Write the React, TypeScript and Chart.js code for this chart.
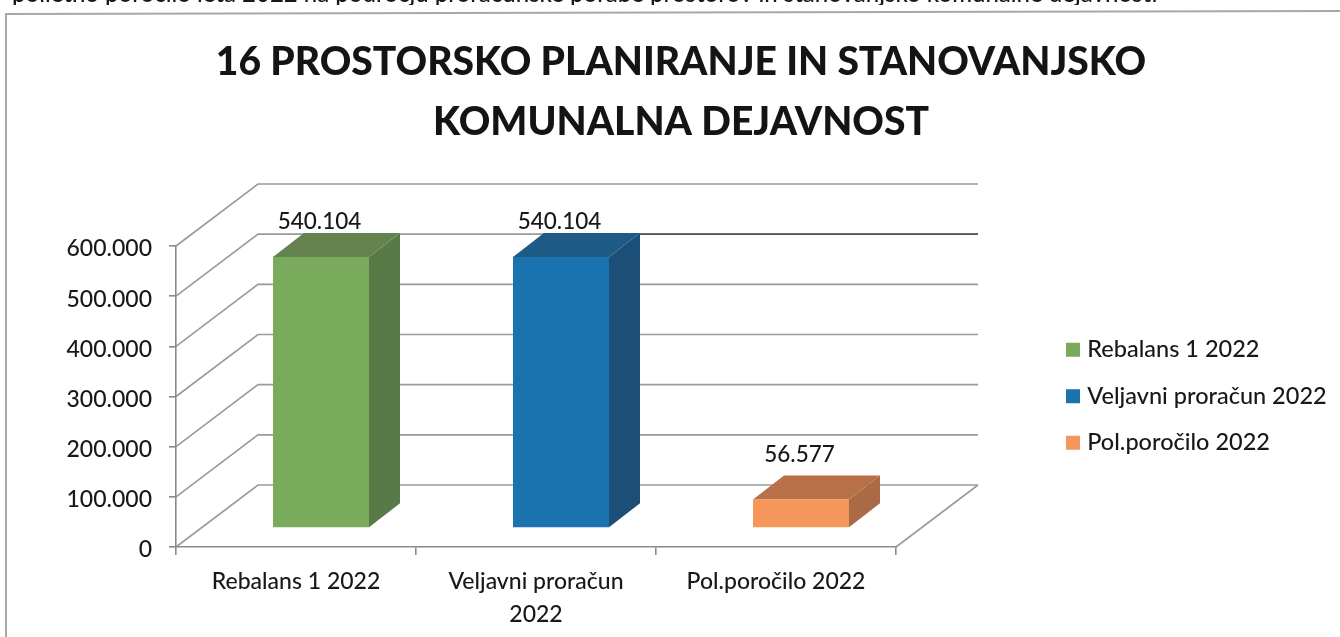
import React, { useEffect, useRef } from "react";
import { Chart, registerables } from "chart.js";

Chart.register(...registerables);

const categories = ["Rebalans 1 2022", ["Veljavni proračun", "2022"], "Pol.poročilo 2022"];
const legendNames = ["Rebalans 1 2022", "Veljavni proračun 2022", "Pol.poročilo 2022"];
const values = [540104, 540104, 56577];
const titleLines = ["16 PROSTORSKO PLANIRANJE IN STANOVANJSKO", "KOMUNALNA DEJAVNOST"];
const frontColors = ["#7aaa5c", "#1a72ae", "#f5965a"];
const topColors = ["#64834f", "#1d5a86", "#b87048"];
const sideColors = ["#587a48", "#1c4f78", "#a96a45"];
const headerText = "polletno poročilo leta 2022 na področju proračunske porabe prostorov in stanovanjsko komunalne dejavnosti";

const FONT = "Lato, sans-serif";
const TEXT = "#181818";
const WALL_DX = 82;
const WALL_DY = -62;
const BAR_DX = 25;
const BAR_DY = -19;
const DEPTH_DX = 31;
const DEPTH_DY = -24;
const GRID = "#9a9a9a";
const fmt = (v: number) => String(Math.round(v)).replace(/\B(?=(\d{3})+$)/g, ".");

const poly = (ctx: any, pts: number[][], fill: string) => {
  ctx.beginPath();
  pts.forEach(([x, y], i) => (i ? ctx.lineTo(x, y) : ctx.moveTo(x, y)));
  ctx.closePath();
  ctx.fillStyle = fill;
  ctx.fill();
};

const scene = {
  id: "scene",
  afterLayout(chart: any) {
    const l = chart.legend;
    l.left = 1047.5; l.right = 1340; l.top = 315; l.bottom = 900;
    const t = chart.titleBlock;
    t.left = 22; t.right = 1340;
    // nudge the value-axis labels down to sit level with their ticks
    const ys = chart.scales.y;
    const compute = ys.constructor.prototype._computeLabelItems;
    ys._computeLabelItems = function (area: any) {
      const items = compute.call(this, area);
      items.forEach((it: any) => { it.textOffset += 3; });
      return items;
    };
  },
  beforeDraw(chart: any) {
    const { ctx, scales: { x, y } } = chart;
    ctx.save();
    ctx.strokeStyle = "#a8a8a8";
    ctx.lineWidth = 2;
    ctx.beginPath();
    ctx.moveTo(6, 637); ctx.lineTo(6, 14); ctx.lineTo(1340, 11);
    ctx.stroke();
    ctx.beginPath();
    ctx.rect(0, 0, 1340, 5);
    ctx.clip();
    ctx.font = `500 24px ${FONT}`;
    ctx.fillStyle = TEXT;
    ctx.textBaseline = "alphabetic";
    ctx.fillText(headerText, 12, 2);
    ctx.restore();

    ctx.save();
    ctx.strokeStyle = GRID;
    ctx.lineWidth = 1.6;
    const left = x.left, right = x.right;
    y.ticks.forEach((t: any) => {
      const p = y.getPixelForValue(t.value);
      ctx.beginPath();
      ctx.moveTo(left, p);
      ctx.lineTo(left + WALL_DX, p + WALL_DY);
      ctx.lineTo(right + WALL_DX, p + WALL_DY);
      ctx.stroke();
    });
    const b = y.getPixelForValue(0);
    ctx.beginPath();
    ctx.moveTo(right, b);
    ctx.lineTo(right + WALL_DX, b + WALL_DY);
    ctx.stroke();
    ctx.restore();
  },
  beforeDatasetsDraw(chart: any) {
    const { ctx } = chart;
    const bars = chart.getDatasetMeta(0).data;
    ctx.save();
    const yp = chart.scales.y.getPixelForValue(500000) + WALL_DY;
    ctx.strokeStyle = "#555";
    ctx.lineWidth = 1.8;
    ctx.beginPath();
    ctx.moveTo(bars[1].x + BAR_DX + bars[1].width / 2 + DEPTH_DX, yp);
    ctx.lineTo(chart.scales.x.right + WALL_DX, yp);
    ctx.stroke();
    bars.forEach((bar: any, i: number) => {
      const l = bar.x + BAR_DX - bar.width / 2;
      const r = bar.x + BAR_DX + bar.width / 2;
      const t = bar.y + BAR_DY;
      const b = bar.base + BAR_DY;
      poly(ctx, [[r, t], [r + DEPTH_DX, t + DEPTH_DY], [r + DEPTH_DX, b + DEPTH_DY], [r, b]], sideColors[i]);
      poly(ctx, [[l, t], [l + DEPTH_DX, t + DEPTH_DY], [r + DEPTH_DX, t + DEPTH_DY], [r, t]], topColors[i]);
    });
    ctx.restore();
  },
  beforeDatasetDraw(chart: any) {
    chart.ctx.save();
    chart.ctx.translate(BAR_DX, BAR_DY);
  },
  afterDatasetDraw(chart: any) {
    chart.ctx.restore();
  },
  afterDatasetsDraw(chart: any) {
    const { ctx } = chart;
    const bars = chart.getDatasetMeta(0).data;
    ctx.save();
    ctx.font = `500 22.5px ${FONT}`;
    ctx.fillStyle = TEXT;
    ctx.textAlign = "center";
    ctx.textBaseline = "middle";
    bars.forEach((bar: any, i: number) => {
      const lift = values[i] < 100000 ? 45 : 35;
      ctx.fillText(fmt(values[i]), bar.x + BAR_DX - 1.5, bar.y + BAR_DY - lift);
    });
    ctx.restore();
  },
};

export default function App() {
  const ref = useRef<HTMLCanvasElement>(null);
  useEffect(() => {
    const chart = new Chart(ref.current as HTMLCanvasElement, {
      type: "bar",
      plugins: [scene],
      data: {
        labels: categories as any,
        datasets: [{
          data: values,
          backgroundColor: frontColors,
          borderWidth: 0,
          barPercentage: 0.4,
          categoryPercentage: 1,
          clip: false,
        }],
      },
      options: {
        animation: false,
        responsive: false,
        layout: { padding: { left: 0, right: 444, top: 0, bottom: 0 } },
        plugins: {
          tooltip: { enabled: false },
          title: {
            display: true,
            text: titleLines,
            color: "#141414",
            font: { family: FONT, size: 39, weight: "900", lineHeight: 60 / 39 },
            padding: { top: 32, bottom: 94 },
          },
          legend: {
            display: true,
            position: "chartArea",
            align: "start",
            labels: {
              usePointStyle: true,
              boxWidth: 5,
              boxHeight: 14,
              padding: 23,
              color: TEXT,
              font: { family: FONT, size: 23.5, weight: "500" },
              generateLabels: () =>
                legendNames.map((text, i) => ({
                  text,
                  fillStyle: frontColors[i],
                  strokeStyle: frontColors[i],
                  lineWidth: 0,
                  pointStyle: "rect",
                  hidden: false,
                  datasetIndex: 0,
                  index: i,
                  fontColor: TEXT,
                })),
            },
          },
        },
        scales: {
          x: {
            afterFit: (s: any) => { s.height = 90; },
            grid: { drawOnChartArea: false, drawTicks: true, tickLength: 8, color: "#8a8a8a", lineWidth: 1.6 },
            border: { color: "#8a8a8a", width: 1.6 },
            ticks: {
              color: TEXT,
              maxRotation: 0,
              autoSkip: false,
              padding: 10,
              font: { family: FONT, size: 23, weight: "500", lineHeight: 33 / 23 },
            },
          },
          y: {
            min: 0,
            max: 600000,
            afterFit: (s: any) => { s.width = 176; },
            grid: { drawOnChartArea: false, drawTicks: true, tickLength: 7, color: "#8a8a8a", lineWidth: 1.6 },
            border: { color: "#8a8a8a", width: 1.6 },
            ticks: {
              stepSize: 100000,
              color: TEXT,
              padding: 17,
              font: { family: FONT, size: 23, weight: "500" },
              callback: (v: any) => fmt(Number(v)),
            },
          },
        },
      },
    } as any);
    return () => chart.destroy();
  }, []);
  return (
    <div style={{ position: "fixed", left: 0, top: 0, width: 1340, height: 637, background: "#fff" }}>
      <canvas ref={ref} width={1340} height={637} style={{ display: "block" }} />
    </div>
  );
}
